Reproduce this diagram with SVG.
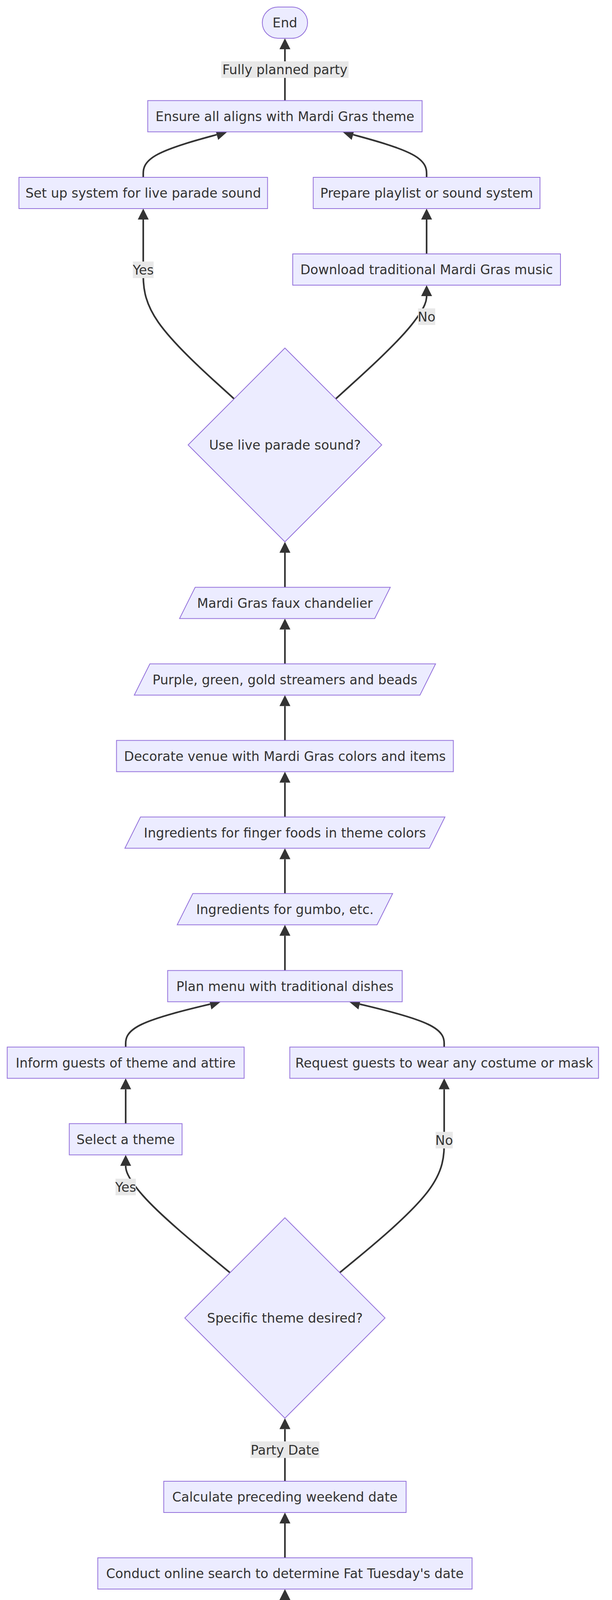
<svg xmlns="http://www.w3.org/2000/svg" width="1568" height="4326" viewBox="0 0 1568 4326">
<style>
.node rect, .node polygon { fill: #ECECFF; stroke: #9370DB; stroke-width: 2; }
text { font-family: "DejaVu Sans", Verdana, sans-serif; font-size: 33.3px; fill: #333333; text-anchor: middle; }
.edge { fill: none; stroke: #333333; stroke-width: 4.2; marker-end: url(#ah); }
.lbl rect { fill: #e8e8e8; }
</style>
<defs>
<marker id="ah" viewBox="0 0 10 10" refX="0" refY="5" markerWidth="28" markerHeight="28" markerUnits="userSpaceOnUse" orient="auto" preserveAspectRatio="none">
<path d="M0,0 L10,5 L0,10 z" fill="#333333"/>
</marker>
</defs>
<rect x="0" y="0" width="1568" height="4326" fill="#ffffff"/>

<g id="connectors">
<path class="edge" d="M730,4184 L730,4096"/>
<path class="edge" d="M730,3988 L730,3900"/>
<path class="edge" d="M730,3792 L730,3658.5"/>
<path class="edge" d="M589.3,3258.1 L544.75,3221.4 C500.2,3184.7 411.1,3111.4 366.55,3061 C322,3010.7 322,2992 322,2984.5"/>
<path class="edge" d="M870.5,3257.9 L915.1,3221.1 C959.7,3184.3 1048.8,3110.6 1093.4,3053.8 C1138,2997 1138,2957 1138,2920.6 L1138,2788.5"/>
<path class="edge" d="M322,2876.5 L322,2788.5"/>
<path class="edge" d="M322,2680.5 L322,2671.25 C322,2661.5 322,2642 362.6,2622.5 C403.2,2603 484.4,2583.5 525,2573.75 L538.4,2570.6"/>
<path class="edge" d="M1138,2680.5 L1138,2671.25 C1138,2661.5 1138,2642 1097.4,2622.5 C1056.8,2603 975.6,2583.5 935,2573.75 L921.6,2570.6"/>
<path class="edge" d="M730,2484.5 L730,2395.5"/>
<path class="edge" d="M730,2287.5 L730,2199.5"/>
<path class="edge" d="M730,2091.5 L730,2003.5"/>
<path class="edge" d="M730,1895.5 L730,1807.5"/>
<path class="edge" d="M730,1699.5 L730,1611.5"/>
<path class="edge" d="M730,1503.5 L730,1415"/>
<path class="edge" d="M599.9,1021.1 L561.1,985.9 C522.3,950.7 444.6,880.4 405.8,825.2 C367,770 367,730 367,693.7 L367,562"/>
<path class="edge" d="M860.1,1021.1 L898.9,985.9 C937.7,950.7 1015.4,880.4 1054.2,831.9 C1093,783.3 1093,767 1093,758"/>
<path class="edge" d="M1093,650 L1093,562"/>
<path class="edge" d="M367,454 L367,444.3 C367,434.6 367,415.2 402.9,395.75 C438.7,376.3 510.5,356.9 546.3,347.2 L555.2,344.8"/>
<path class="edge" d="M1093,454 L1093,444.3 C1093,434.6 1093,415.2 1057.1,395.75 C1021.3,376.3 949.5,356.9 913.7,347.2 L904.8,344.8"/>
<path class="edge" d="M730,257.5 L730,126"/>
</g>

<g id="edge-labels">
<g class="lbl"><rect x="567" y="157" width="326" height="42.5"/><text x="730" y="190">Fully planned party</text></g>
<g class="lbl"><rect x="340.5" y="669.5" width="53" height="42.5"/><text x="367" y="702.5">Yes</text></g>
<g class="lbl"><rect x="1071" y="789.5" width="44" height="42.5"/><text x="1093" y="822.5">No</text></g>
<g class="lbl"><rect x="1116" y="2897.5" width="44" height="42.5"/><text x="1138" y="2930.5">No</text></g>
<g class="lbl"><rect x="296" y="3017.5" width="52" height="42.5"/><text x="322" y="3050.5">Yes</text></g>
<g class="lbl"><rect x="641.5" y="3690" width="177" height="42.5"/><text x="730" y="3723.5">Party Date</text></g>
</g>

<g id="node-end" class="node"><rect x="672" y="18" width="116" height="80" rx="40" ry="40"/><text x="730" y="70">End</text></g>
<g id="node-ensure" class="node"><rect x="378.5" y="257.5" width="703" height="80"/><text x="730" y="309.5">Ensure all aligns with Mardi Gras theme</text></g>
<g id="node-setup" class="node"><rect x="48.5" y="454" width="637" height="80"/><text x="367" y="506">Set up system for live parade sound</text></g>
<g id="node-prepare" class="node"><rect x="802.5" y="454" width="581" height="80"/><text x="1093" y="506">Prepare playlist or sound system</text></g>
<g id="node-download" class="node"><rect x="750" y="650" width="686" height="80"/><text x="1093" y="702">Download traditional Mardi Gras music</text></g>
<g id="node-decision1" class="node"><polygon points="730,891 978,1139 730,1387 482,1139"/><text x="730" y="1151">Use live parade sound?</text></g>
<g id="node-chandelier" class="node"><polygon points="500,1503.5 1000,1503.5 960,1583.5 460,1583.5"/><text x="730" y="1555.5">Mardi Gras faux chandelier</text></g>
<g id="node-streamers" class="node"><polygon points="384,1699.5 1116,1699.5 1076,1779.5 344,1779.5"/><text x="730" y="1751.5">Purple, green, gold streamers and beads</text></g>
<g id="node-decorate" class="node"><rect x="298.5" y="1895.5" width="863" height="80"/><text x="730" y="1947.5">Decorate venue with Mardi Gras colors and items</text></g>
<g id="node-finger" class="node"><polygon points="360,2091.5 1140,2091.5 1100,2171.5 320,2171.5"/><text x="730" y="2143.5">Ingredients for finger foods in theme colors</text></g>
<g id="node-gumbo" class="node"><polygon points="494,2287.5 1006,2287.5 966,2367.5 454,2367.5"/><text x="730" y="2339.5">Ingredients for gumbo, etc.</text></g>
<g id="node-menu" class="node"><rect x="429.5" y="2484.5" width="601" height="80"/><text x="730" y="2536.5">Plan menu with traditional dishes</text></g>
<g id="node-inform" class="node"><rect x="18.5" y="2680.5" width="607" height="80"/><text x="322" y="2732.5">Inform guests of theme and attire</text></g>
<g id="node-request" class="node"><rect x="742.5" y="2680.5" width="791" height="80"/><text x="1138" y="2732.5">Request guests to wear any costume or mask</text></g>
<g id="node-select" class="node"><rect x="177.5" y="2876.5" width="289" height="80"/><text x="322" y="2928.5">Select a theme</text></g>
<g id="node-decision2" class="node"><polygon points="730,3117.5 986.5,3374 730,3630.5 473.5,3374"/><text x="730" y="3386">Specific theme desired?</text></g>
<g id="node-calculate" class="node"><rect x="419.5" y="3792" width="621" height="80"/><text x="730" y="3844">Calculate preceding weekend date</text></g>
<g id="node-conduct" class="node"><rect x="250.5" y="3988" width="959" height="80"/><text x="730" y="4040">Conduct online search to determine Fat Tuesday's date</text></g>
<g id="node-start" class="node"><rect x="661" y="4184" width="137" height="79" rx="39.5" ry="39.5"/><text x="730" y="4236.5">Start</text></g>
</svg>
